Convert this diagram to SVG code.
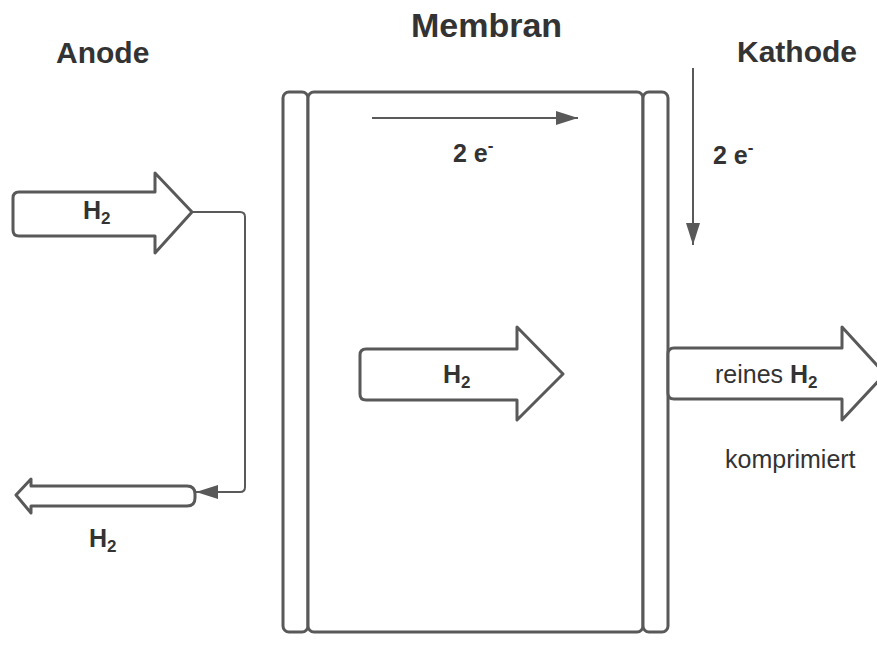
<svg xmlns="http://www.w3.org/2000/svg" width="877" height="646" viewBox="0 0 877 646">
  <style>
    .shape { fill: #ffffff; stroke: #595959; stroke-width: 3; stroke-linejoin: round; }
    .wire { fill: none; stroke: #595959; stroke-width: 2; }
    text { font-family: "Liberation Sans", Arial, sans-serif; fill: #333333; }
    .title { font-weight: bold; font-size: 30px; }
    .lbl { font-size: 25px; }
    .b { font-weight: bold; }
    .sub { font-size: 17px; }
  </style>
  <defs>
    <marker id="head" markerUnits="userSpaceOnUse" markerWidth="22" markerHeight="14" refX="22" refY="7" orient="auto">
      <path d="M0,0 L22,7 L0,14 Z" fill="#595959"/>
    </marker>
  </defs>

  <rect width="877" height="646" fill="#ffffff"/>

  <!-- titles -->
  <g id="titles">
    <text class="title" x="56" y="63">Anode</text>
    <text class="title" x="411" y="37" style="font-size:34px">Membran</text>
    <text class="title" x="737" y="62">Kathode</text>
  </g>

  <!-- membrane stack -->
  <g id="membrane">
    <rect class="shape" x="283" y="92" width="25" height="540" rx="6"/>
    <rect class="shape" x="308" y="92" width="335" height="540" rx="6"/>
    <rect class="shape" x="643" y="92" width="25" height="540" rx="6"/>
  </g>

  <!-- hydrogen feed at the anode -->
  <g id="feed">
    <path class="shape" d="M19,192 L155,192 L155,173 L192,212 L155,253 L155,236 L19,236 Q13,236 13,230 L13,198 Q13,192 19,192 Z"/>
    <text class="lbl b" x="83" y="219">H<tspan class="sub" dy="5">2</tspan></text>
  </g>

  <!-- hydrogen returned at the anode -->
  <g id="return">
    <path class="shape" d="M187,486 Q195,486 195,494 L195,498 Q195,506 187,506 L31,506 L31,513 L16,495 L31,479 L31,486 Z"/>
    <text class="lbl b" x="89" y="547">H<tspan class="sub" dy="5">2</tspan></text>
  </g>

  <!-- hydrogen through the membrane -->
  <g id="transfer">
    <path class="shape" d="M366,349 L517,349 L517,327 L563,374 L517,420 L517,400 L366,400 Q360,400 360,394 L360,355 Q360,349 366,349 Z"/>
    <text class="lbl b" x="443" y="383">H<tspan class="sub" dy="5">2</tspan></text>
  </g>

  <!-- compressed hydrogen output -->
  <g id="output">
    <path class="shape" d="M674,348 L842,348 L842,327 L885,374 L842,420 L842,399 L674,399 Q668,399 668,393 L668,354 Q668,348 674,348 Z"/>
    <text class="lbl" x="715" y="383">reines <tspan class="b">H</tspan><tspan class="b sub" dy="5">2</tspan></text>
    <text class="lbl" x="725" y="468">komprimiert</text>
  </g>

  <!-- electron labels -->
  <g id="electrons">
    <text class="lbl b" x="453" y="162">2 e<tspan class="sub" dy="-11">-</tspan></text>
    <text class="lbl b" x="713" y="164">2 e<tspan class="sub" dy="-11">-</tspan></text>
  </g>

  <!-- connectors -->
  <g id="connectors">
    <path class="wire" d="M192,212 L240,212 Q245,212 245,217 L245,487 Q245,492 240,492 L196,492" marker-end="url(#head)"/>
    <path class="wire" d="M372,118 L578,118" marker-end="url(#head)"/>
    <path class="wire" d="M693,68 L693,245" marker-end="url(#head)"/>
  </g>
</svg>
